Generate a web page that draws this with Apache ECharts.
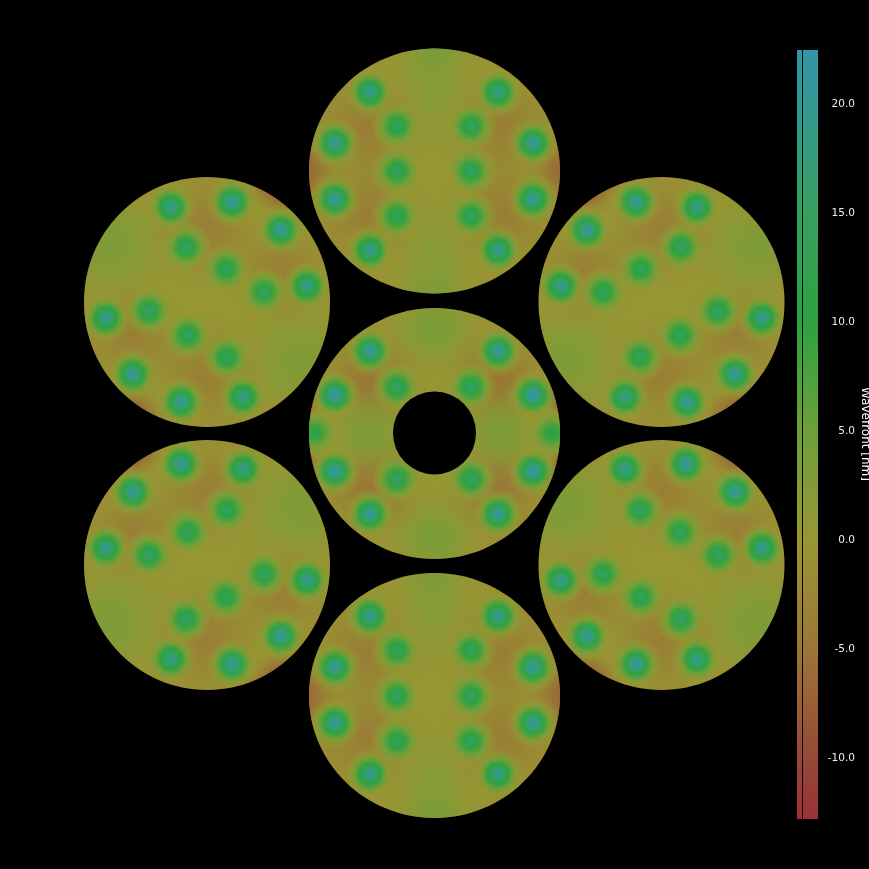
<!DOCTYPE html>
<html><head><meta charset="utf-8">
<style>html,body{margin:0;padding:0;background:#000}#c{width:869px;height:869px}</style>
<script src="https://cdn.jsdelivr.net/npm/echarts@6/dist/echarts.min.js"></script>
</head><body><div id="c"></div>
<script>
// colormap: [value nm, r, g, b]
var colormapStops = [[-12.8,155,50,55],[-10,150,72,55],[-5,155,118,55],[0,154,150,50],[5,108,160,58],[10,44,162,64],[15,54,160,95],[20,50,153,148],[22.48,50,150,168]];
var colorbarColumns = [[0,5],[6,21]];
var colorbarTicks = [-15,-10,-5,0,5,10,15,20,25];
// segments: cx, cy, rx, ry
var segments = [[434.5,171,125.5,122.5],[434.5,433.5,125.5,125.5],[434.5,695.5,125.5,122.5],[207,302,123,125],[661.5,302,123,125],[207,565,123,125],[661.5,565,123,125]];
var centralHole = [[434.5,433,41.5]];
var baseValue = 0.4, rimValue = -0.6;
// smooth low-order areas: x, y, radius, value, strength
var areasTop = [[434,50,50,4,.95],[434,292,50,3.6,.9],[434,95,42,3,.8],[434,250,42,3,.75],[434,130,36,1.6,.6],[434,215,36,1.6,.6],[366,128,70,-6,.62],[502,128,70,-6,.62],[366,214,70,-6,.62],[502,214,70,-6,.62],[303,171,42,-8,.8],[566,171,42,-8,.8]];
var areasCentre = [[372,378,64,-7,.66],[496,378,64,-7,.66],[372,490,64,-7,.66],[496,490,64,-7,.66],[298,395,32,-15,.98],[298,472,32,-15,.98],[571,395,32,-15,.98],[571,472,32,-15,.98],[368,433,50,3.6,.9],[500,433,50,3.6,.9],[434,328,50,4,.95],[434,538,50,4,.95]];
var areasBottom = [[434,575,50,3.6,.9],[434,818,50,4,.95],[434,615,42,3,.75],[434,775,42,3,.8],[434,650,36,1.6,.6],[434,745,36,1.6,.6],[366,652,70,-6,.62],[502,652,70,-6,.62],[366,738,70,-6,.62],[502,738,70,-6,.62],[303,696,42,-8,.8],[566,696,42,-8,.8]];
var areasUL = [[205,228,72,-6,.6],[282,275,64,-6,.6],[132,333,64,-6,.6],[208,375,70,-6,.6],[286,180,42,-12,.95],[126,422,42,-12,.95],[110,245,68,3.6,.9],[302,362,68,3.6,.9]];
var areasUR = [[663,228,72,-6,.6],[586,275,64,-6,.6],[736,333,64,-6,.6],[660,375,70,-6,.6],[582,180,42,-12,.95],[742,422,42,-12,.95],[758,245,68,3.6,.9],[566,362,68,3.6,.9]];
var areasLL = [[205,639,72,-6,.6],[282,592,64,-6,.6],[132,534,64,-6,.6],[208,492,70,-6,.6],[286,687,42,-12,.95],[126,445,42,-12,.95],[110,622,68,3.6,.9],[302,505,68,3.6,.9]];
var areasLR = [[663,639,72,-6,.6],[586,592,64,-6,.6],[736,534,64,-6,.6],[660,492,70,-6,.6],[582,687,42,-12,.95],[742,445,42,-12,.95],[758,622,68,3.6,.9],[566,505,68,3.6,.9]];
var areasBySegment = [areasTop,areasCentre,areasBottom,areasUL,areasUR,areasLL,areasLR];
// actuators: x, y, peak value
var actTop = [[370,92,20],[498,92,19],[397,126,14.5],[471,126,14.5],[335,143,21],[533,143,21],[397,171,15],[471,171,15],[335,199,21],[533,199,21],[397,216,14.5],[471,216,14.5],[370,250,20],[498,250,20]];
var actCentre = [[370,351,21],[498,351,21],[397,387,15.5],[471,387,15.5],[335,395,22.4],[533,395,22.4],[315,433,12],[552,433,12],[335,471,22],[533,471,22],[397,479,15.5],[471,479,15.5],[370,514,21],[498,514,21]];
var actBottom = [[370,616,20],[498,616,20],[397,650,14.5],[471,650,14.5],[335,667,21],[533,667,21],[397,696,15],[471,696,15],[335,723,21],[533,723,21],[397,741,14.5],[471,741,14.5],[370,774,20],[498,774,19]];
var actUL = [[171,207,19],[232,202,21],[281,230,21],[186,247,15.5],[226,269,14],[264,292,14.5],[307,286,20],[106,318,20],[149,311,15.5],[188,335,14.5],[227,357,14.5],[133,374,21],[181,402,21],[243,397,19]];
var actUR = [[636,202,21],[697,207,19],[587,230,21],[681,247,15.5],[641,269,14],[603,292,14.5],[561,286,20],[718,311,15.5],[762,318,20],[680,335,14.5],[640,357,14.5],[735,374,21],[625,397,19],[687,402,21]];
var actLL = [[181,464,21],[243,469,19],[133,492,21],[227,510,14.5],[188,532,14.5],[106,548,20],[149,555,15.5],[264,574,14.5],[307,580,20],[226,597,14],[186,619,15.5],[281,636,21],[171,659,19],[232,664,21]];
var actLR = [[625,469,19],[686,464,21],[735,492,21],[640,510,14.5],[680,532,14.5],[718,555,15.5],[762,548,20],[603,574,14.5],[561,580,20],[641,597,14],[681,619,15.5],[587,636,21],[636,664,21],[697,659,19]];
var actuatorsBySegment = [actTop,actCentre,actBottom,actUL,actUR,actLL,actLR];
var actuatorRadius = 26;

function colorOf(v,a){
  var s=colormapStops,i=0; v=Math.max(s[0][0],Math.min(s[s.length-1][0],v));
  while(i<s.length-2&&v>s[i+1][0])i++;
  var t=(v-s[i][0])/(s[i+1][0]-s[i][0]);
  var c=[1,2,3].map(function(k){return Math.round(s[i][k]+(s[i+1][k]-s[i][k])*t);});
  return 'rgba('+c[0]+','+c[1]+','+c[2]+','+(a==null?1:a)+')';
}
function clipFor(api,seg){
  var S=segments[seg],c=api.coord([S[0],S[1]]);
  return {type:'ellipse',shape:{cx:c[0],cy:c[1],rx:S[2],ry:S[3]}};
}
var areaData=[],actData=[];
areasBySegment.forEach(function(l,s){l.forEach(function(a){areaData.push(a.concat(s));});});
actuatorsBySegment.forEach(function(l,s){l.forEach(function(a){actData.push(a.concat(s));});});

var chart=echarts.init(document.getElementById('c'),null,{renderer:'canvas'});
var hidden={show:false};
chart.setOption({
  backgroundColor:'#000',animation:false,tooltip:{show:false},
  grid:[{left:0,top:0,width:869,height:869,outerBoundsMode:'none'},{left:797,top:-5,width:21,height:872,outerBoundsMode:'none'}],
  xAxis:[{type:'value',gridIndex:0,min:0,max:869,show:false,splitLine:hidden},
         {type:'value',gridIndex:1,min:0,max:21,show:false,splitLine:hidden}],
  yAxis:[{type:'value',gridIndex:0,min:0,max:869,inverse:true,show:false,splitLine:hidden},
         {type:'value',gridIndex:1,min:colorbarTicks[0],max:colorbarTicks[colorbarTicks.length-1],interval:5,position:'right',
          axisLine:hidden,axisTick:hidden,splitLine:hidden,
          axisLabel:{color:'#eee',fontFamily:'DejaVu Sans',fontSize:10.5,align:'right',margin:37,
            formatter:function(v){return (v===25||v===-15)?'':v.toFixed(1);}},
          name:'Wavefront [nm]',nameLocation:'middle',nameRotate:-90,nameGap:37,
          nameTextStyle:{color:'#fff',fontFamily:'DejaVu Sans',fontSize:12,padding:[0,0,0,6]}}],
  series:[
    {type:'custom',name:'segments',xAxisIndex:0,yAxisIndex:0,clip:false,silent:true,data:segments,
     renderItem:function(p,api){
       var c=api.coord([api.value(0),api.value(1)]);
       var rx=api.value(2),ry=api.value(3);
       return {type:'ellipse',shape:{cx:c[0],cy:c[1],rx:rx,ry:ry},
         style:{fill:{type:'radial',x:.5,y:.5,r:.5,colorStops:[{offset:0,color:colorOf(baseValue)},{offset:.88,color:colorOf(baseValue)},{offset:1,color:colorOf(rimValue)}]}}};
     }},
    {type:'custom',name:'areas',xAxisIndex:0,yAxisIndex:0,clip:false,silent:true,data:areaData,
     renderItem:function(p,api){
       var c=api.coord([api.value(0),api.value(1)]),r=api.value(2),v=api.value(3),a=api.value(4);
       return {type:'circle',shape:{cx:c[0],cy:c[1],r:r},clipPath:clipFor(api,api.value(5)),
         style:{fill:{type:'radial',x:.5,y:.5,r:.5,colorStops:[{offset:0,color:colorOf(v,a)},{offset:.3,color:colorOf(v,a*.72)},{offset:.6,color:colorOf(v,a*.28)},{offset:.8,color:colorOf(v,a*.08)},{offset:1,color:colorOf(v,0)}]}}};
     }},
    {type:'custom',name:'actuators',xAxisIndex:0,yAxisIndex:0,clip:false,silent:true,data:actData,
     renderItem:function(p,api){
       var c=api.coord([api.value(0),api.value(1)]),pk=api.value(2);
       return {type:'circle',shape:{cx:c[0],cy:c[1],r:actuatorRadius},clipPath:clipFor(api,api.value(3)),
         style:{fill:{type:'radial',x:.5,y:.5,r:.5,colorStops:[
           {offset:0,color:colorOf(pk)},{offset:.14,color:colorOf(pk*.92)},{offset:.26,color:colorOf(pk*.72)},
           {offset:.4,color:colorOf(pk*.52)},{offset:.54,color:colorOf(pk*.3)},{offset:.68,color:colorOf(2.5,.9)},{offset:.84,color:colorOf(.9,.5)},{offset:1,color:colorOf(.5,0)}]}}};
     }},
    {type:'custom',name:'hole',xAxisIndex:0,yAxisIndex:0,clip:false,silent:true,data:centralHole,
     renderItem:function(p,api){
       var c=api.coord([api.value(0),api.value(1)]);
       return {type:'circle',shape:{cx:c[0],cy:c[1],r:api.value(2)},style:{fill:'#000'}};
     }},
    {type:'custom',name:'colorbar',xAxisIndex:1,yAxisIndex:1,clip:false,silent:true,data:colorbarColumns,
     renderItem:function(p,api){
       var lo=colormapStops[0][0],hi=colormapStops[colormapStops.length-1][0];
       var a=api.coord([api.value(0),hi]),b=api.coord([api.value(1),lo]);
       return {type:'rect',shape:{x:a[0],y:a[1],width:b[0]-a[0],height:b[1]-a[1]},
         style:{fill:{type:'linear',x:0,y:0,x2:0,y2:1,colorStops:colormapStops.map(function(s){
           return {offset:(hi-s[0])/(hi-lo),color:colorOf(s[0])};}).reverse()}}};
     }}
  ]
});
</script></body></html>
